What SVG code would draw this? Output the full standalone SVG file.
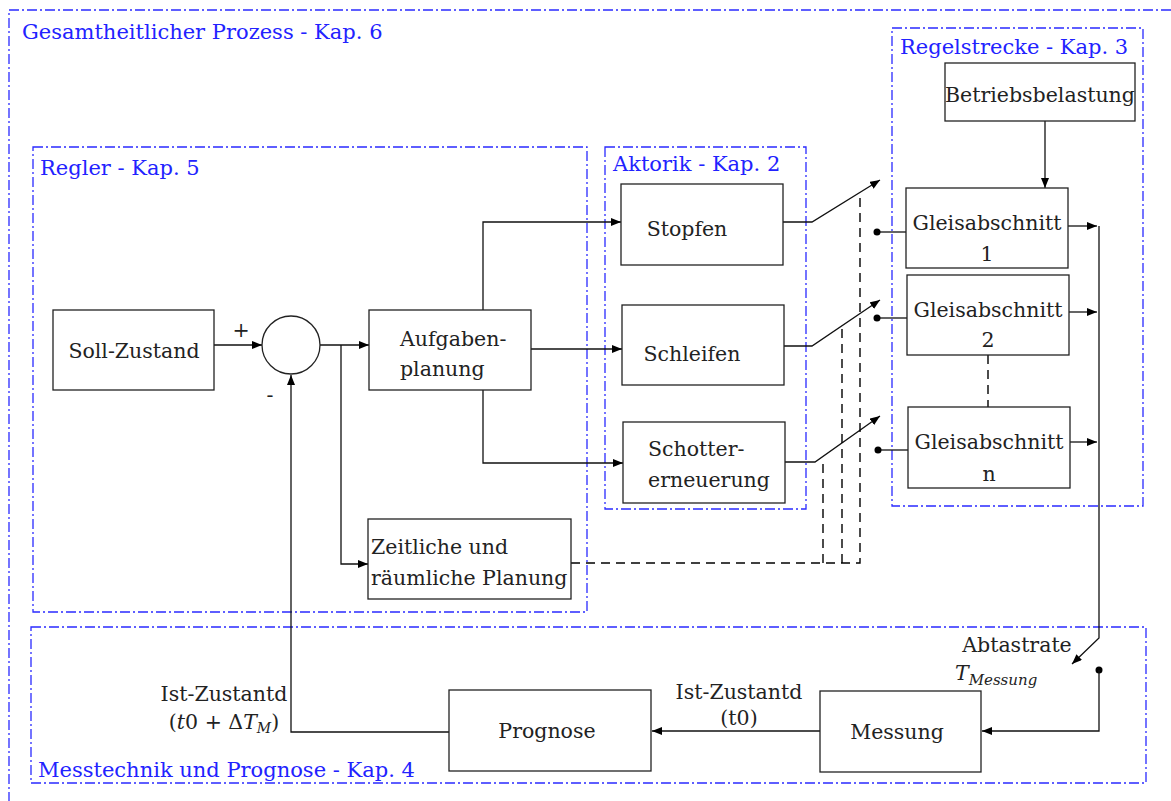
<svg xmlns="http://www.w3.org/2000/svg" width="1171" height="801" viewBox="0 0 1171 801">
  <style>
    .frame { fill: none; stroke: #2a2aff; stroke-width: 1.3; stroke-dasharray: 10 3 2 3; }
    .flabel { font-family: "DejaVu Serif", "Liberation Serif", serif; font-size: 21px; fill: #2222ff; }
    .box { fill: #ffffff; stroke: #222222; stroke-width: 1.3; }
    .txt { font-family: "DejaVu Serif", "Liberation Serif", serif; font-size: 20.5px; fill: #222222; }
    .mid { text-anchor: middle; }
    .ln { fill: none; stroke: #111111; stroke-width: 1.3; }
    .arr { marker-end: url(#ah); }
    .dash { fill: none; stroke: #000000; stroke-width: 1.4; stroke-dasharray: 9 6; }
    .dot { fill: #000000; }
  </style>
  <defs>
    <marker id="ah" viewBox="0 0 10 8" refX="10" refY="4" markerWidth="10" markerHeight="8" markerUnits="userSpaceOnUse" orient="auto">
      <path d="M0,0 L10,4 L0,8 Z" fill="#000000"/>
    </marker>
  </defs>

  <rect width="1171" height="801" fill="#ffffff"/>

  <!-- process frames -->
  <g id="frames">
    <rect class="frame" x="9" y="10" width="1180" height="800"/>
    <text class="flabel" x="22" y="39">Gesamtheitlicher Prozess - Kap. 6</text>
    <rect class="frame" x="33" y="147" width="554" height="465"/>
    <text class="flabel" x="40" y="175">Regler - Kap. 5</text>
    <rect class="frame" x="605" y="147" width="201" height="362"/>
    <text class="flabel" x="613" y="171">Aktorik - Kap. 2</text>
    <rect class="frame" x="892" y="28" width="251" height="478"/>
    <text class="flabel" x="900" y="54">Regelstrecke - Kap. 3</text>
    <rect class="frame" x="31" y="627" width="1115" height="156"/>
    <text class="flabel" x="38" y="777">Messtechnik und Prognose - Kap. 4</text>
  </g>

  <!-- connectors -->
  <g id="connectors">
    <line class="ln arr" x1="214" y1="345" x2="262" y2="345"/>
    <line class="ln arr" x1="320" y1="345" x2="369" y2="345"/>
    <polyline class="ln arr" points="341,345 341,564 368,564"/>
    <polyline class="ln arr" points="483,310 483,222 621,222"/>
    <line class="ln arr" x1="531" y1="349" x2="622" y2="349"/>
    <polyline class="ln arr" points="483,390 483,463 623,463"/>

    <!-- switches -->
    <polyline class="ln arr" points="783,222 812,222 880,180"/>
    <polyline class="ln arr" points="784,346 812,346 880,300"/>
    <polyline class="ln arr" points="785,462 815,462 880,416"/>
    <line class="ln" x1="877" y1="232" x2="906" y2="232"/>
    <circle class="dot" cx="877" cy="232" r="3.5"/>
    <line class="ln" x1="877" y1="318" x2="907" y2="318"/>
    <circle class="dot" cx="877" cy="318" r="3.5"/>
    <line class="ln" x1="878" y1="450" x2="908" y2="450"/>
    <circle class="dot" cx="878" cy="450" r="3.5"/>

    <!-- dashed timing links -->
    <polyline class="dash" points="571,563 860,563 860,198"/>
    <line class="dash" x1="842" y1="563" x2="842" y2="326"/>
    <line class="dash" x1="823" y1="563" x2="823" y2="458"/>

    <line class="ln arr" x1="1045" y1="121" x2="1045" y2="188"/>
    <line class="dash" x1="988" y1="355" x2="988" y2="407"/>

    <line class="ln arr" x1="1068" y1="226" x2="1097" y2="226"/>
    <line class="ln arr" x1="1069" y1="312" x2="1097" y2="312"/>
    <line class="ln arr" x1="1070" y1="442" x2="1097" y2="442"/>
    <polyline class="ln arr" points="1099,226 1099,638 1072,664"/>

    <circle class="dot" cx="1099" cy="670" r="3.5"/>
    <polyline class="ln arr" points="1099,670 1099,731 982,731"/>
    <line class="ln arr" x1="820" y1="731" x2="652" y2="731"/>
    <polyline class="ln arr" points="449,732 291,732 291,375"/>

    <text class="txt" x="241" y="337" text-anchor="middle">+</text>
    <text class="txt" x="270" y="402" text-anchor="middle">-</text>
    <text class="txt mid" x="739" y="699">Ist-Zustantd</text>
    <text class="txt mid" x="739" y="725">(t0)</text>
    <text class="txt mid" x="224" y="701">Ist-Zustantd</text>
    <text class="txt mid" x="224" y="729">(<tspan font-style="italic">t</tspan>0 + Δ<tspan font-style="italic">T</tspan><tspan font-style="italic" font-size="14" dy="4">M</tspan><tspan dy="-4">)</tspan></text>
    <text class="txt mid" x="1017" y="652">Abtastrate</text>
    <text class="txt" x="955" y="680" font-style="italic">T<tspan font-size="15" dy="5">Messung</tspan></text>
  </g>

  <!-- nodes -->
  <g id="soll">
    <rect class="box" x="53" y="310" width="161" height="80"/>
    <text class="txt mid" x="134" y="358">Soll-Zustand</text>
  </g>
  <g id="summe">
    <circle cx="291" cy="345" r="29" fill="#ffffff" stroke="#222222" stroke-width="1.3"/>
  </g>
  <g id="aufgaben">
    <rect class="box" x="369" y="310" width="162" height="80"/>
    <text class="txt" x="400" y="346">Aufgaben-</text>
    <text class="txt" x="400" y="376">planung</text>
  </g>
  <g id="zeitlich">
    <rect class="box" x="368" y="519" width="203" height="80"/>
    <text class="txt" x="371" y="554">Zeitliche und</text>
    <text class="txt" x="371" y="585">räumliche Planung</text>
  </g>
  <g id="stopfen">
    <rect class="box" x="621" y="184" width="162" height="81"/>
    <text class="txt mid" x="687" y="236">Stopfen</text>
  </g>
  <g id="schleifen">
    <rect class="box" x="622" y="305" width="162" height="80"/>
    <text class="txt mid" x="692" y="361">Schleifen</text>
  </g>
  <g id="schotter">
    <rect class="box" x="623" y="422" width="162" height="81"/>
    <text class="txt" x="648" y="456">Schotter-</text>
    <text class="txt" x="648" y="487">erneuerung</text>
  </g>
  <g id="betrieb">
    <rect class="box" x="945" y="63" width="190" height="58"/>
    <text class="txt mid" x="1040" y="102">Betriebsbelastung</text>
  </g>
  <g id="gleis1">
    <rect class="box" x="906" y="188" width="162" height="80"/>
    <text class="txt mid" x="987" y="230">Gleisabschnitt</text>
    <text class="txt mid" x="987" y="261">1</text>
  </g>
  <g id="gleis2">
    <rect class="box" x="907" y="275" width="162" height="80"/>
    <text class="txt mid" x="988" y="317">Gleisabschnitt</text>
    <text class="txt mid" x="988" y="347">2</text>
  </g>
  <g id="gleisn">
    <rect class="box" x="908" y="407" width="162" height="81"/>
    <text class="txt mid" x="989" y="449">Gleisabschnitt</text>
    <text class="txt mid" x="989" y="481">n</text>
  </g>
  <g id="prognose">
    <rect class="box" x="449" y="690" width="202" height="81"/>
    <text class="txt mid" x="547" y="738">Prognose</text>
  </g>
  <g id="messung">
    <rect class="box" x="820" y="691" width="161" height="81"/>
    <text class="txt mid" x="897" y="739">Messung</text>
  </g>
</svg>
